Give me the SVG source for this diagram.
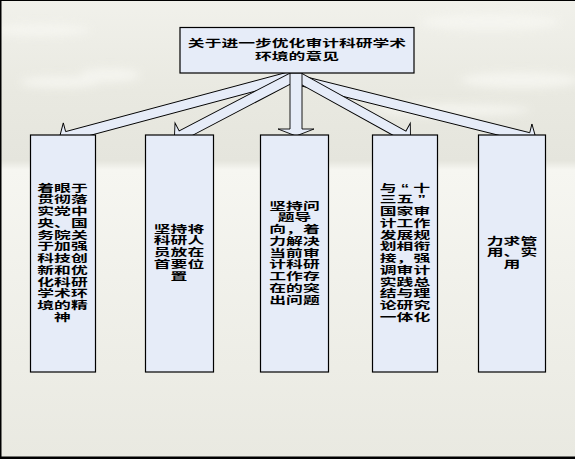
<svg xmlns="http://www.w3.org/2000/svg" width="575" height="459" viewBox="0 0 575 459">
<defs>
<linearGradient id="bg" x1="0" y1="0" x2="0" y2="1">
<stop offset="0" stop-color="#f1f1eb"/>
<stop offset="0.2" stop-color="#e9e9e1"/>
<stop offset="0.35" stop-color="#e5e5dd"/>
<stop offset="0.37" stop-color="#f6f6f1"/>
<stop offset="0.6" stop-color="#f1f1eb"/>
<stop offset="1" stop-color="#e9e9e1"/>
</linearGradient>
<filter id="blur" x="-50%" y="-50%" width="200%" height="200%"><feGaussianBlur stdDeviation="4"/></filter>
</defs>
<style>
.box{fill:#e6ecf8;stroke:#000;stroke-width:1.2}
.arr{fill:#e6ecf8;stroke:#000;stroke-width:0.9;stroke-linejoin:miter}
.t{font-family:"Liberation Sans","Noto Sans CJK SC","Noto Sans CJK TC",sans-serif;font-weight:bold;font-size:10.5px;fill:#000;text-anchor:middle}
</style>
<rect x="0" y="0" width="575" height="459" fill="url(#bg)"/>
<g filter="url(#blur)" fill="#f7f7f2" opacity="0.8">
<ellipse cx="60" cy="82" rx="40" ry="6"/>
<ellipse cx="110" cy="75" rx="30" ry="7"/>
<ellipse cx="490" cy="22" rx="70" ry="8"/>
<ellipse cx="520" cy="80" rx="60" ry="8"/>
<ellipse cx="40" cy="30" rx="50" ry="6"/>
<ellipse cx="450" cy="110" rx="80" ry="6"/>
</g>
<rect x="0" y="0" width="1.5" height="459" fill="#000"/>
<rect x="0" y="0" width="575" height="1" fill="#000"/>
<rect x="0" y="456.5" width="575" height="2.5" fill="#000"/>

<g id="connectors">
<polygon class="arr" transform="translate(59.2,138.5) rotate(165)" points="-241.5,-5 -8,-5 -8,-14 0,0 -8,14 -8,5 -241.5,5"/>
<polygon class="arr" transform="translate(536.3,139.5) rotate(14.02)" points="-245.6,-5 -8,-5 -8,-14 0,0 -8,14 -8,5 -245.6,5"/>
<polygon class="arr" transform="translate(174.4,139.1) rotate(152.4)" points="-133.1,-5 -8,-5 -8,-14 0,0 -8,14 -8,5 -133.1,5"/>
<polygon class="arr" transform="translate(410.5,139.3) rotate(28.97)" points="-128.6,-5 -8,-5 -8,-14 0,0 -8,14 -8,5 -128.6,5"/>
<polygon class="arr" points="290,73 302,73 302,129 314,129 296,136 278,129 290,129"/>
</g>

<g id="n0">
<rect class="box" x="180" y="27.5" width="234" height="45.5"/>
<text class="t" transform="translate(297,0) scale(1.6,1)"><tspan x="0" y="47.3">关于进一步优化审计科研学术</tspan><tspan x="0" y="60.3">环境的意见</tspan></text>
</g>

<g id="n1">
<rect class="box" x="30.5" y="135" width="65" height="237"/>
<text class="t" transform="translate(62.5,0) scale(1.6,1)"><tspan x="0" y="191.7">着眼于</tspan><tspan x="0" dy="11.75">贯彻落</tspan><tspan x="0" dy="11.75">实党中</tspan><tspan x="0" dy="11.75">央、国</tspan><tspan x="0" dy="11.75">务院关</tspan><tspan x="0" dy="11.75">于加强</tspan><tspan x="0" dy="11.75">科技创</tspan><tspan x="0" dy="11.75">新和优</tspan><tspan x="0" dy="11.75">化科研</tspan><tspan x="0" dy="11.75">学术环</tspan><tspan x="0" dy="11.75">境的精</tspan><tspan x="0" dy="11.75">神</tspan></text>
</g>

<g id="n2">
<rect class="box" x="145.5" y="135" width="68" height="237"/>
<text class="t" transform="translate(179,0) scale(1.6,1)"><tspan x="0" y="232.7">坚持将</tspan><tspan x="0" dy="11.75">科研人</tspan><tspan x="0" dy="11.75">员放在</tspan><tspan x="0" dy="11.75">首要位</tspan><tspan x="0" dy="11.75">置</tspan></text>
</g>

<g id="n3">
<rect class="box" x="260.5" y="135" width="68" height="237"/>
<text class="t" transform="translate(294.5,0) scale(1.6,1)"><tspan x="0" y="209.7">坚持问</tspan><tspan x="0" dy="11.75">题导</tspan><tspan x="0" dy="11.75">向，着</tspan><tspan x="0" dy="11.75">力解决</tspan><tspan x="0" dy="11.75">当前审</tspan><tspan x="0" dy="11.75">计科研</tspan><tspan x="0" dy="11.75">工作存</tspan><tspan x="0" dy="11.75">在的突</tspan><tspan x="0" dy="11.75">出问题</tspan></text>
</g>

<g id="n4">
<rect class="box" x="372.5" y="135" width="65" height="237"/>
<text class="t" transform="translate(405,0) scale(1.6,1)"><tspan x="0" y="191.7">与<tspan dx="2.6">“</tspan><tspan dx="2.6">十</tspan></tspan><tspan x="-1.3" dy="11.75">三五<tspan dx="2.6">”</tspan></tspan><tspan x="0" dy="11.75">国家审</tspan><tspan x="0" dy="11.75">计工作</tspan><tspan x="0" dy="11.75">发展规</tspan><tspan x="0" dy="11.75">划相衔</tspan><tspan x="0" dy="11.75">接，强</tspan><tspan x="0" dy="11.75">调审计</tspan><tspan x="0" dy="11.75">实践总</tspan><tspan x="0" dy="11.75">结与理</tspan><tspan x="0" dy="11.75">论研究</tspan><tspan x="0" dy="11.75">一体化</tspan></text>
</g>

<g id="n5">
<rect class="box" x="478.5" y="135" width="67" height="237"/>
<text class="t" transform="translate(512,0) scale(1.6,1)"><tspan x="0" y="244.7">力求管</tspan><tspan x="0" dy="11.75">用、实</tspan><tspan x="0" dy="11.75">用</tspan></text>
</g>
</svg>
